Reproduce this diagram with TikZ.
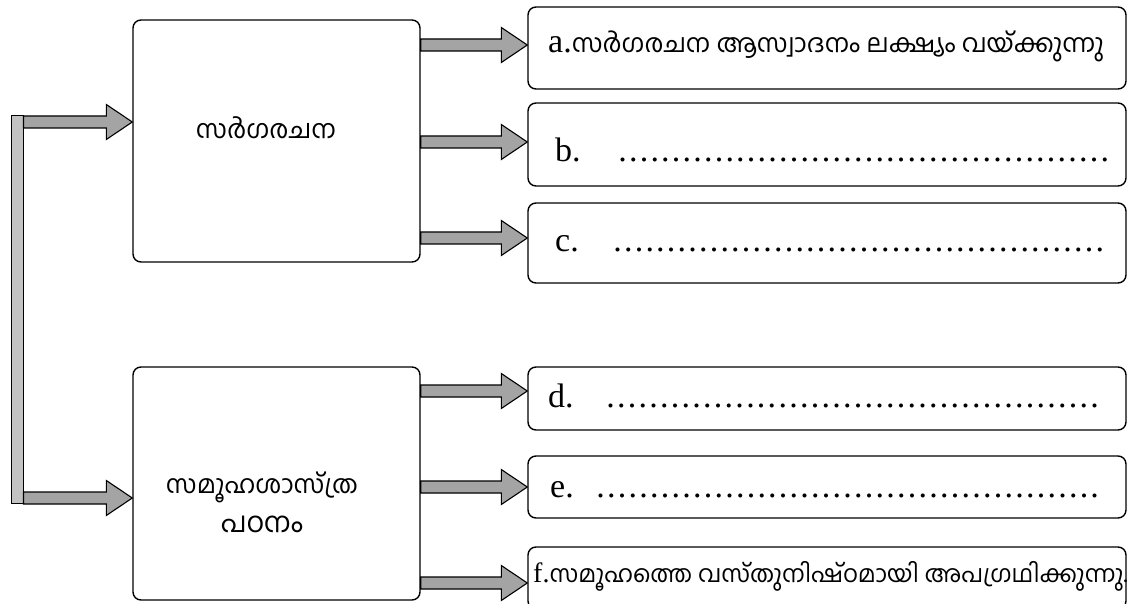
\documentclass[tikz,border=0pt]{standalone}
\usepackage{fontspec}
\usepackage{graphicx}
\setmainfont{Liberation Serif}
\newfontfamily\mlfont[Script=Malayalam]{Hind Kochi}
\usetikzlibrary{calc}
\definecolor{arrowgray}{HTML}{A4A4A4}
\definecolor{bargray}{HTML}{C2C2C2}
\newcommand\dotrow[1]{\hbox to #1{\xleaders\hbox to 10.6pt{\hss.\hss}\hfill}}
\newcommand\blockarrow[2]{%
  \filldraw[arrowstyle] let \p1=#1, \p2=#2 in
    (\x1,\y1+6pt) -- (\x2-26pt,\y1+6pt) -- (\x2-26pt,\y1+17.5pt) -- (\x2,\y1)
    -- (\x2-26pt,\y1-17.5pt) -- (\x2-26pt,\y1-6pt) -- (\x1,\y1-6pt) -- cycle;}
\begin{document}
\begin{tikzpicture}[x=1pt,y=-1pt,
  mainbox/.style={draw, rounded corners=8pt, line width=1.4pt, inner sep=0pt, minimum width=287pt},
  ansbox/.style={draw, rounded corners=8pt, line width=1.4pt, inner sep=0pt, minimum width=598pt},
  arrowstyle/.style={fill=arrowgray, draw=black, line width=1.1pt, line join=miter},
  lbl/.style={anchor=west, inner sep=0pt, font=\fontsize{34}{36}\selectfont},
  mltext/.style={inner sep=0pt, font=\mlfont}]
\clip (0,0) rectangle (1128,604);
\fill[white] (0,0) rectangle (1128,604);
% main boxes
\node[mainbox, minimum height=242pt] (box1) at (276.5,141) {};
\node[mainbox, minimum height=233pt] (box2) at (276.5,483.5) {};
% answer boxes
\node[ansbox, minimum height=82pt] (ba) at (827,48) {};
\node[ansbox, minimum height=83pt] (bb) at (827,144.5) {};
\node[ansbox, minimum height=80pt] (bc) at (827,243) {};
\node[ansbox, minimum height=63pt] (bd) at (827,398.5) {};
\node[ansbox, minimum height=62pt] (be) at (827,487) {};
\node[ansbox, minimum height=62pt] (bf) at (827,578) {};
% left bar
\node[draw, fill=bargray, line width=1pt, inner sep=0pt, minimum width=12pt, minimum height=387pt] (bar) at (17,309.5) {};
% arrow levels
\coordinate (y1) at (0,122);
\coordinate (y2) at (0,498);
\coordinate (ya) at (0,45);
\coordinate (yb) at (0,142);
\coordinate (yc) at (0,238);
\coordinate (yd) at (0,391);
\coordinate (ye) at (0,487);
\coordinate (yf) at (0,583);
\blockarrow{(bar.east |- y1)}{(box1.west |- y1)}
\blockarrow{(bar.east |- y2)}{(box2.west |- y2)}
\blockarrow{(box1.east |- ya)}{(ba.west |- ya)}
\blockarrow{(box1.east |- yb)}{(bb.west |- yb)}
\blockarrow{(box1.east |- yc)}{(bc.west |- yc)}
\blockarrow{(box2.east |- yd)}{(bd.west |- yd)}
\blockarrow{(box2.east |- ye)}{(be.west |- ye)}
\blockarrow{(box2.east |- yf)}{(bf.west |- yf)}
% texts in main boxes
\node[mltext] (t1) at (266,128) {\resizebox{140pt}{!}{സർഗരചന}};
\node[mltext, align=center] (t2) at (262,502) {\resizebox{192pt}{!}{സമൂഹശാസ്ത്ര}\\[12pt]\resizebox{82pt}{!}{പഠനം}};
% texts in answer boxes
\node[lbl] (ta) at (548,46) {a.{\mlfont\resizebox{532pt}{!}{സർഗരചന ആസ്വാദനം ലക്ഷ്യം വയ്ക്കുന്നു}}};
\node[lbl] (tb) at (555,150) {\makebox[62pt][l]{b.}\dotrow{493pt}};
\node[lbl] (tc) at (555,244) {\makebox[57pt][l]{c.}\dotrow{493pt}};
\node[lbl] (td) at (548,396) {\makebox[57pt][l]{d.}\dotrow{495pt}};
\node[lbl] (te) at (550,490) {\makebox[45pt][l]{e.}\dotrow{505pt}};
\node[lbl, font=\fontsize{28}{30}\selectfont] (tf) at (533,576) {f.{\mlfont\resizebox{578pt}{!}{സമൂഹത്തെ വസ്തുനിഷ്ഠമായി അപഗ്രഥിക്കുന്നു.}}};
\end{tikzpicture}
\end{document}
